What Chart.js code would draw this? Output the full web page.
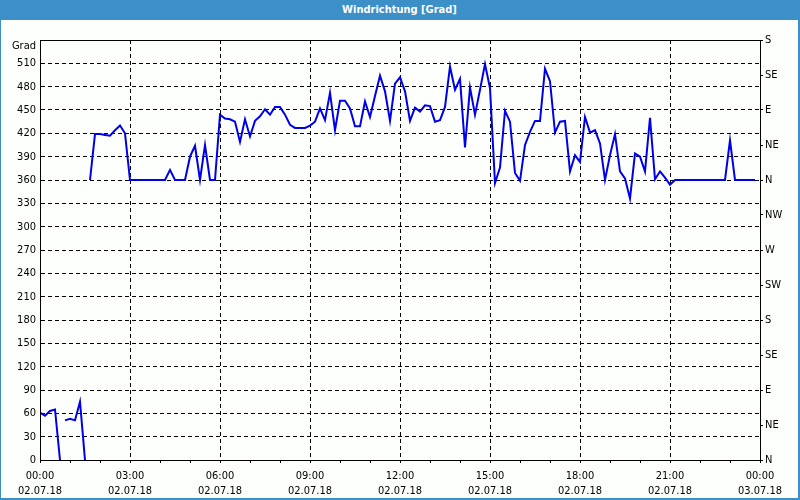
<!DOCTYPE html>
<html>
<head>
<meta charset="utf-8">
<script src="https://cdn.jsdelivr.net/npm/chart.js@4.4.1/dist/chart.umd.min.js"></script>
<style>
  html, body { margin: 0; padding: 0; background: #fff; }
  #frame { position: relative; width: 800px; height: 500px; box-sizing: border-box;
    border-left: 1px solid #3c8fc7; border-right: 2px solid #3c8fc7; border-bottom: 2px solid #3c8fc7;
    background: #fcfffc; overflow: hidden; }
  #title { position: absolute; left: 0; top: 0; width: 100%; height: 20px; background: #3c8fc7;
    color: #fff; font: bold 11px "DejaVu Sans Condensed", "DejaVu Sans", sans-serif;
    line-height: 20px; text-align: center; }
  #c { position: absolute; left: -1px; top: 0; }
</style>
</head>
<body>
<div id="frame">
  <div id="title">Windrichtung [Grad]</div>
  <canvas id="c" width="800" height="500"></canvas>
</div>
<script>
// time in minutes since 02.07.18 00:00 ; null entries break the line
const minutes = [
  0, 10, 20, 30, 40, 45,
  50, 60, 70, 80, 90, 95,
  100, 110, 120, 130, 140, 150, 160, 170, 180, 190, 200, 210, 220, 230, 240, 250,
  260, 270, 280, 290, 300, 310, 320, 330, 340, 350, 360, 370, 380, 390, 400, 410,
  420, 430, 440, 450, 460, 470, 480, 490, 500, 510, 520, 530, 540, 550, 560, 570,
  580, 590, 600, 610, 620, 630, 640, 650, 660, 670, 680, 690, 700, 710, 720, 730,
  740, 750, 760, 770, 780, 790, 800, 810, 820, 830, 840, 850, 860, 870, 880, 890,
  900, 910, 920, 930, 940, 950, 960, 970, 980, 990, 1000, 1010, 1020, 1030, 1040, 1050,
  1060, 1070, 1080, 1090, 1100, 1110, 1120, 1130, 1140, 1150, 1160, 1170, 1180, 1190, 1200, 1210,
  1220, 1230, 1240, 1250, 1260, 1270, 1280, 1290, 1300, 1310, 1320, 1330, 1340, 1350, 1360, 1370,
  1380, 1390, 1400, 1410, 1420, 1430
];
const direction = [
  61, 57, 63, 65, 0, null,
  51, 53, 51, 75, 0, null,
  360, 419, 419, 418, 417, 424, 430, 420, 360, 360, 360, 360, 360, 360, 360, 360,
  373, 360, 360, 360, 390, 404, 360, 405, 360, 360, 444, 439, 438, 435, 409, 438,
  416, 436, 442, 451, 444, 454, 454, 444, 431, 427, 427, 427, 430, 435, 452, 437,
  472, 424, 462, 462, 452, 429, 429, 461, 441, 468, 494, 474, 436, 484, 492, 474,
  436, 453, 448, 456, 455, 435, 437, 454, 506, 476, 490, 402, 479, 444, 476, 509,
  478, 356, 376, 449, 435, 369, 359, 405, 422, 436, 436, 503, 487, 421, 435, 436,
  371, 392, 383, 441, 421, 424, 407, 360, 392, 419, 371, 362, 336, 394, 390, 371,
  440, 361, 371, 363, 354, 360, 360, 360, 360, 360, 360, 360, 360, 360, 360, 360,
  411, 360, 360, 360, 360, 360
];
const compass = ['N', 'NE', 'E', 'SE', 'S', 'SW', 'W', 'NW', 'N', 'NE', 'E', 'SE', 'S'];
const dayLabels = { 0: '02.07.18', 1440: '03.07.18' };

const FONT = { family: '"DejaVu Sans Condensed", "DejaVu Sans", sans-serif', size: 11 };

function pad(n) { return (n < 10 ? '0' : '') + n; }

const boxPlugin = {
  id: 'box',
  afterDraw(chart) {
    const a = chart.chartArea, ctx = chart.ctx;
    ctx.save();
    ctx.strokeStyle = '#000';
    ctx.lineWidth = 1;
    ctx.setLineDash([]);
    ctx.strokeRect(Math.round(a.left) + 0.5, Math.round(a.top) + 0.5,
      Math.round(a.right - a.left), Math.round(a.bottom - a.top));
    ctx.restore();
  }
};

new Chart(document.getElementById('c'), {
  type: 'line',
  data: {
    datasets: [{
      data: minutes.map((m, i) => ({ x: m, y: direction[i] })),
      borderColor: '#0000e8',
      borderWidth: 2,
      pointRadius: 0,
      tension: 0,
      spanGaps: false,
      fill: false
    }]
  },
  options: {
    responsive: false,
    animation: false,
    events: [],
    layout: { padding: { top: 40, left: 0, right: 0, bottom: 0 } },
    plugins: { legend: { display: false }, tooltip: { enabled: false }, title: { display: false } },
    scales: {
      x: {
        type: 'linear', min: 0, max: 1440,
        afterFit(s) { s.height = 40; },
        ticks: {
          stepSize: 60, autoSkip: false, maxRotation: 0, padding: 5,
          color: '#000', font: Object.assign({ lineHeight: 1.4 }, FONT),
          callback(v) {
            if (v % 180 !== 0) return '';
            const day = v === 1440 ? dayLabels[1440] : dayLabels[0];
            const h = (v / 60) % 24;
            return [pad(h) + ':00', day];
          }
        },
        grid: {
          color(ctx) {
            const v = ctx.tick ? ctx.tick.value : -1;
            return (v % 180 === 0 && v > 0 && v < 1440) ? '#000' : 'rgba(0,0,0,0)';
          },
          tickColor: '#000', tickLength: 3, tickWidth: 1
        },
        border: { display: true, color: '#000', width: 1, dash: [4, 3] }
      },
      y: {
        type: 'linear', position: 'left', min: 0, max: 540,
        afterFit(s) { s.width = 40; },
        ticks: {
          stepSize: 30, autoSkip: false, padding: 4, color: '#000',
          font: Object.assign({ lineHeight: 1.2 }, FONT),
          callback(v) { return v === 540 ? ['', 'Grad'] : String(v); }
        },
        grid: {
          drawTicks: false,
          color(ctx) {
            const v = ctx.tick ? ctx.tick.value : -1;
            return (v > 0 && v < 540) ? '#000' : 'rgba(0,0,0,0)';
          }
        },
        border: { display: true, color: '#000', width: 1, dash: [4, 3] }
      },
      y2: {
        type: 'linear', position: 'right', min: 0, max: 540,
        afterFit(s) { s.width = 40; },
        ticks: {
          stepSize: 45, autoSkip: false, padding: 2, color: '#000', font: FONT,
          callback(v) { return compass[Math.round(v / 45)]; }
        },
        grid: { drawOnChartArea: false, tickColor: '#000', tickLength: 3, color: '#000' },
        border: { display: true, color: '#000', width: 1 }
      }
    }
  },
  plugins: [boxPlugin]
});
</script>
</body>
</html>
